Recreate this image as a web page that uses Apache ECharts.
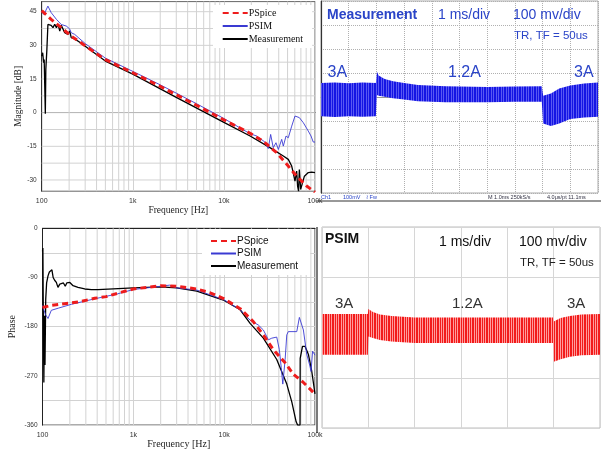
<!DOCTYPE html>
<html>
<head>
<meta charset="utf-8">
<script src="https://cdn.jsdelivr.net/npm/echarts@6/dist/echarts.min.js"></script>
<style>
html,body{margin:0;padding:0;background:#fff;}
#c{width:605px;height:450px;}
</style>
</head>
<body>
<div id="c"></div>
<script>
// ---------- Bode magnitude [frequency Hz, dB] ----------
const magPSpice = [[100,45.5],[127,41.6],[164,37.9],[211,34.1],[322,29],[491,23.8],[1000,17.8],[2000,11.7],[5000,3.3],[10000,-3.2],[19400,-9.2],[27000,-12.7],[37900,-17.8],[49000,-23],[62900,-28.3],[81000,-32.7],[100000,-35.5]];
const magPSIM = [[100,44.8],[106,43.8],[117,47.5],[127,44.6],[145,41.6],[164,39.3],[186,38.6],[202,37.4],[211,35.6],[221,35.9],[230,34.9],[300,30.8],[500,24.3],[1000,18.4],[2000,12.4],[3000,8.7],[5000,4],[10000,-2.6],[19400,-9.4],[22900,-10.4],[28200,-13.1],[30700,-16],[32600,-9.7],[34800,-15.6],[37300,-13.4],[39600,-16.4],[43100,-11.9],[44900,-14.9],[48100,-10.4],[50900,-11.2],[55500,-6],[60300,-1.5],[67300,-2.2],[74500,-4.5],[84400,-8.2],[90400,-10.4],[95700,-13.1],[100000,-13.1]];
const magMeas = [[100,25.2],[102.5,26.7],[105,22.3],[106.5,23.7],[108,12],[109.6,-0.5],[111,19.3],[114,28.2],[117,39.3],[122,38.6],[127,38.9],[133,37.9],[139,39.4],[145,37.9],[151,39.4],[158,36.4],[164,38.9],[171,38.6],[179,35.6],[186,36.4],[194,34.9],[203,36.4],[211,33.4],[221,34.2],[230,32.9],[264,31.3],[500,23],[1000,17.2],[3000,6.8],[10000,-4.3],[19400,-10.4],[32000,-15.6],[44900,-19.3],[50900,-20.8],[55500,-23.8],[57600,-26.7],[60300,-30.5],[62900,-26],[64400,-32.7],[66000,-35],[67300,-25.3],[69600,-34.2],[72700,-33.4],[76500,-28.3],[84400,-26.7],[91800,-26.5],[100000,-26.7]];

// ---------- Bode phase [frequency Hz, deg] ----------
const phPSpice = [[100,-145],[104,-144],[125,-141],[175,-138],[246,-135],[376,-128],[500,-125],[667,-119],[1000,-111],[2000,-105],[3000,-106],[5000,-111],[7000,-118],[10000,-129],[15000,-147],[21000,-171],[27000,-195],[34800,-222],[46900,-246],[57800,-267],[74500,-282],[95900,-300],[100000,-304]];
const phPSIM = [[100,-141],[104,-150],[108,-158],[115,-165],[125,-150],[150,-146],[208,-139],[376,-129],[667,-120],[1000,-112],[2000,-106],[2500,-104],[3000,-109],[5000,-113],[10000,-131],[15000,-149],[19300,-168],[23800,-177],[27000,-186],[30700,-204],[33400,-201],[37900,-199],[40500,-222],[42500,-255],[44200,-285],[46900,-240],[48900,-195],[50800,-189],[63000,-189],[67300,-163],[74500,-186],[81000,-230],[87300,-250],[90500,-262],[94000,-225],[100000,-232]];
const phMeas = [[100,-42],[101,-36],[102,-150],[103.5,-282],[105,-160],[106.5,-250],[108.5,-130],[111,-100],[115,-87],[119,-80],[123,-78],[127,-76],[131,-90],[136,-95],[142,-99],[148,-108],[155,-102],[162,-104],[170,-100],[178,-106],[185,-100],[191,-102],[200,-99],[208,-96],[217,-105],[246,-108],[292,-111],[345,-112],[408,-112],[1000,-109],[2000,-107],[3000,-109],[5000,-115],[7000,-123],[10000,-132],[15000,-149],[19300,-174],[27000,-201],[37900,-240],[48900,-285],[55600,-318],[62000,-354],[64400,-360],[68400,-360],[68700,-238],[69800,-237],[72800,-216],[77800,-216],[84700,-231],[92000,-261],[100000,-303]];

// ---------- Oscilloscope measurement (ms, mV envelope) ----------
const scopeTime  = [0,0.5,1,1.5,1.98,2.02,2.08,2.3,2.6,3.0,3.5,4.5,6,7,7.97,8.02,8.3,8.6,9.0,9.5,10];
const scopeUpper = [58,60,57,60,58,105,90,75,66,58,50,45,42,44,45,5,15,35,48,56,60];
const scopeLower = [-80,-83,-80,-82,-80,8,5,1,-5,-10,-18,-22,-22,-20,-20,-110,-121,-110,-92,-85,-82];

// ---------- PSIM simulation (ms, mV envelope) ----------
const psimTime  = [0,0.99,1.0,1.1,1.25,1.5,2.0,3.0,4.99,5.0,5.15,5.35,5.6,6.0];
const psimUpper = [27,27,37,31,26,23,20,20,20,12,19,23,26,27];
const psimLower = [-54,-54,-18,-21,-25,-28,-31,-31,-31,-68,-63,-58,-55,-54];

// ---------- tick labels ----------
const freqTicks = {100:'100',1000:'1k',10000:'10k',100000:'100k'};
const magLabelStep = 15;
const phaseLabelStep = 90;

// minor grid line positions
const logGrid = [];
for (let d = 100; d < 100000; d *= 10) for (let k = 2; k <= 9; k++) logGrid.push(d * k);
const magGrid = [];
for (let v = -30; v <= 45; v += 7.5) magGrid.push(v);

function stripe(w, base, light, cols) {
  const c = document.createElement('canvas');
  c.width = w; c.height = 4;
  const g = c.getContext('2d');
  g.fillStyle = base; g.fillRect(0, 0, w, 4);
  g.fillStyle = light;
  cols.forEach(x => g.fillRect(x, 0, 1, 4));
  return { image: c, repeat: 'repeat' };
}
const redPattern = stripe(7, '#f21a1a', '#ff9c9c', [0, 2, 5]);
const bluePattern = stripe(5, '#1616e4', '#5a5af2', [1, 3]);

function band(xi, yi, t, up, lo, fill) {
  return {
    type: 'custom', xAxisIndex: xi, yAxisIndex: yi, silent: true, animation: false, z: 3,
    data: t.map((v, i) => [v, up[i], lo[i]]),
    encode: { x: 0, y: [1, 2] },
    renderItem: function (params, api) {
      if (params.dataIndex !== 0) return;
      const pts = [];
      for (let i = 0; i < t.length; i++) pts.push(api.coord([t[i], up[i]]));
      for (let i = t.length - 1; i >= 0; i--) pts.push(api.coord([t[i], lo[i]]));
      return { type: 'polygon', shape: { points: pts }, style: { fill: fill } };
    }
  };
}

function hGrid(xi, yi, vals, a0, a1) {
  const d = [];
  vals.forEach(v => { d.push([a0, v], [a1, v], ['-', v]); });
  return { type: 'line', xAxisIndex: xi, yAxisIndex: yi, silent: true, animation: false, z: 1,
    symbol: 'none', showSymbol: false, connectNulls: false, data: d,
    lineStyle: { color: '#d2d2d2', width: 1 } };
}
// vertical decade grid on a hidden decade-exponent axis sharing the grid
function vGrid(xi, yi, vals, a0, a1) {
  const d = [];
  vals.forEach(v => { const e = Math.log10(v); d.push([e, a0], [e, a1], [e, '-']); });
  return { type: 'line', xAxisIndex: xi, yAxisIndex: yi, silent: true, animation: false, z: 1,
    symbol: 'none', showSymbol: false, connectNulls: false, data: d,
    lineStyle: { color: '#d2d2d2', width: 1 } };
}

const serif = '"Liberation Serif","Times New Roman",serif';
const sans = '"Liberation Sans",Arial,sans-serif';
const gridLine = { color: '#d2d2d2', width: 1, type: 'solid' };

const lineCommon = { type: 'line', symbol: 'none', showSymbol: false, animation: false, silent: true };

const scopeBlue = '#2a44c8';
const txt = (x, y, s, size, color, weight) => ({
  type: 'text', x: x, y: y, z: 50, silent: true,
  style: { text: s, x: 0, y: 0, fill: color, fontSize: size, fontFamily: sans, fontWeight: weight || 'normal', verticalAlign: 'middle', align: 'left' }
});

const option = {
  animation: false,
  backgroundColor: '#fff',
  grid: [
    { left: 41.7, top: 1.6, width: 273.3, height: 189.6, show: true, borderColor: '#666', borderWidth: 1 },
    { left: 42.5, top: 228.3, width: 272.5, height: 200, show: true, borderColor: '#333', borderWidth: 1 },
    { left: 321, top: 1, width: 277, height: 192, show: true, borderColor: '#aaa', borderWidth: 1 },
    { left: 322, top: 227, width: 278, height: 201, show: true, borderColor: '#bdbdbd', borderWidth: 1 }
  ],
  xAxis: [
    { gridIndex: 0, type: 'log', logBase: 10, min: 100, max: 100000,
      axisLine: { show: true, lineStyle: { color: '#333' } }, axisTick: { show: false },
      splitLine: { show: true, lineStyle: gridLine },
      axisLabel: { fontSize: 7, color: '#333', margin: 6, fontFamily: sans, formatter: v => freqTicks[Math.round(v)] || '' },
      name: 'Frequency [Hz]', nameLocation: 'middle', nameGap: 9,
      nameTextStyle: { fontFamily: serif, fontSize: 9.5, color: '#222' } },
    { gridIndex: 1, type: 'log', logBase: 10, min: 100, max: 100000,
      axisLine: { show: true, lineStyle: { color: '#222' } }, axisTick: { show: false },
      splitLine: { show: true, lineStyle: gridLine },
      axisLabel: { fontSize: 7, color: '#333', margin: 6, fontFamily: sans, formatter: v => freqTicks[Math.round(v)] || '' },
      name: 'Frequency [Hz]', nameLocation: 'middle', nameGap: 10.5,
      nameTextStyle: { fontFamily: serif, fontSize: 10, color: '#222' } },
    { gridIndex: 2, type: 'value', min: 0, max: 10, interval: 1,
      axisLine: { show: true, lineStyle: { color: '#999' } }, axisTick: { show: false }, axisLabel: { show: false },
      splitLine: { show: true, lineStyle: { color: '#b0b0b0', type: 'dotted', width: 1 } } },
    { gridIndex: 3, type: 'value', min: 0, max: 6, interval: 1,
      axisLine: { show: false }, axisTick: { show: false }, axisLabel: { show: false },
      splitLine: { show: true, lineStyle: { color: '#d6d6d6', width: 1 } } },
    { gridIndex: 0, type: 'value', min: 2, max: 5, show: false },
    { gridIndex: 1, type: 'value', min: 2, max: 5, show: false }
  ],
  yAxis: [
    { gridIndex: 0, type: 'value', min: -35, max: 49.5, interval: 2.5,
      axisLine: { show: true, lineStyle: { color: '#333' } }, axisTick: { show: false }, splitLine: { show: false },
      axisLabel: { fontSize: 6.5, color: '#333', margin: 5, fontFamily: sans,
        formatter: v => (Math.abs(v % magLabelStep) < 1e-6 ? String(Math.round(v)) : '') },
      name: 'Magnitude [dB]', nameLocation: 'middle', nameGap: 14.5,
      nameTextStyle: { fontFamily: serif, fontSize: 9.5, color: '#222' } },
    { gridIndex: 1, type: 'value', min: -360, max: 0, interval: 45,
      axisLine: { show: true, lineStyle: { color: '#222' } }, axisTick: { show: false },
      splitLine: { show: true, lineStyle: gridLine },
      axisLabel: { fontSize: 6.5, color: '#333', margin: 5, fontFamily: sans,
        formatter: v => (Math.abs(v % phaseLabelStep) < 1e-6 ? String(Math.round(v)) : '') },
      name: 'Phase', nameLocation: 'middle', nameGap: 25,
      nameTextStyle: { fontFamily: serif, fontSize: 10, color: '#222' } },
    { gridIndex: 2, type: 'value', min: -400, max: 400, interval: 100,
      axisLine: { show: true, lineStyle: { color: '#333', width: 1.2 } }, axisTick: { show: false }, axisLabel: { show: false },
      splitLine: { show: true, lineStyle: { color: '#b0b0b0', type: 'dotted', width: 1 } } },
    { gridIndex: 3, type: 'value', min: -200, max: 200, interval: 100,
      axisLine: { show: false }, axisTick: { show: false }, axisLabel: { show: false },
      splitLine: { show: true, lineStyle: { color: '#d6d6d6', width: 1 } } }
  ],
  legend: [
    { data: ['PSpice', 'PSIM', 'Measurement'], orient: 'vertical', left: 213, top: 5, z: 20,
      backgroundColor: '#fff', padding: [3, 9, 4, 8.7], itemWidth: 25, itemHeight: 8, itemGap: 3,
      itemStyle: { opacity: 0 },
      selectedMode: false, textStyle: { fontFamily: serif, fontSize: 10, color: '#111', padding: [0, 0, 0, -4] } },
    { data: ['PSpice', 'PSIM', 'Measurement'], orient: 'vertical', left: 202, top: 229, z: 20,
      backgroundColor: '#fff', padding: [7, 12, 4, 8], itemWidth: 25, itemHeight: 8, itemGap: 2.5,
      itemStyle: { opacity: 0 },
      selectedMode: false, textStyle: { fontFamily: sans, fontSize: 10, color: '#111', padding: [0, 0, 0, -4] } }
  ],
  series: [
    hGrid(0, 0, magGrid, 100, 100000),
    vGrid(4, 0, logGrid, -35, 49.5),
    vGrid(5, 1, logGrid, -360, 0),

    Object.assign({}, lineCommon, { name: 'Measurement', xAxisIndex: 0, yAxisIndex: 0, z: 3, data: magMeas, lineStyle: { color: '#000', width: 1.3 }, itemStyle: { color: '#000' } }),
    Object.assign({}, lineCommon, { name: 'PSIM', xAxisIndex: 0, yAxisIndex: 0, z: 4, data: magPSIM, lineStyle: { color: '#3a3ad2', width: 0.9 }, itemStyle: { color: '#3a3ad2' } }),
    Object.assign({}, lineCommon, { name: 'PSpice', xAxisIndex: 0, yAxisIndex: 0, z: 5, data: magPSpice, lineStyle: { color: '#ee1c1c', width: 3, type: [6, 4] }, itemStyle: { color: '#ee1c1c' } }),

    Object.assign({}, lineCommon, { name: 'Measurement', xAxisIndex: 1, yAxisIndex: 1, z: 3, data: phMeas, lineStyle: { color: '#000', width: 1.3 }, itemStyle: { color: '#000' } }),
    Object.assign({}, lineCommon, { name: 'PSIM', xAxisIndex: 1, yAxisIndex: 1, z: 4, data: phPSIM, lineStyle: { color: '#3a3ad2', width: 0.9 }, itemStyle: { color: '#3a3ad2' } }),
    Object.assign({}, lineCommon, { name: 'PSpice', xAxisIndex: 1, yAxisIndex: 1, z: 5, data: phPSpice, lineStyle: { color: '#ee1c1c', width: 3, type: [6, 4] }, itemStyle: { color: '#ee1c1c' } }),

    band(2, 2, scopeTime, scopeUpper, scopeLower, bluePattern),
    band(3, 3, psimTime, psimUpper, psimLower, redPattern)
  ],
  graphic: [
    txt(327, 15, 'Measurement', 14, scopeBlue, 'bold'),
    txt(438, 15, '1 ms/div', 14, scopeBlue),
    txt(513, 15, '100 mv/div', 14, scopeBlue),
    txt(514, 36, 'TR, TF = 50us', 11.5, scopeBlue),
    txt(327.5, 73, '3A', 16, scopeBlue),
    txt(448, 73, '1.2A', 16, scopeBlue),
    txt(574, 73, '3A', 16, scopeBlue),
    txt(321, 197.5, 'Ch1', 5.5, scopeBlue),
    txt(343, 197.5, '100mV', 5.5, scopeBlue),
    txt(366, 197.5, '\u2240 Fw', 5.5, scopeBlue),
    txt(488, 197.5, 'M 1.0ms 250kS/s', 5.5, '#334'),
    txt(547, 197.5, '4.0\u03bcs/pt 11.1ms', 5.5, '#334'),
    txt(325, 239.5, 'PSIM', 14, '#111', 'bold'),
    txt(439, 242, '1 ms/div', 14, '#111'),
    txt(519, 242, '100 mv/div', 14, '#111'),
    txt(520, 263, 'TR, TF = 50us', 11.5, '#222'),
    txt(335, 304, '3A', 15, '#333'),
    txt(452, 304, '1.2A', 15, '#333'),
    txt(567, 304, '3A', 15, '#333'),
    { type: 'line', z: 40, silent: true, shape: { x1: 316, y1: 201, x2: 601, y2: 201 }, style: { stroke: '#333', lineWidth: 1 } },
    { type: 'line', z: 40, silent: true, shape: { x1: 317, y1: 227, x2: 317, y2: 433 }, style: { stroke: '#222', lineWidth: 1.2 } }
  ]
};

const chart = echarts.init(document.getElementById('c'), null, { renderer: 'canvas' });
chart.setOption(option);
</script>
</body>
</html>
